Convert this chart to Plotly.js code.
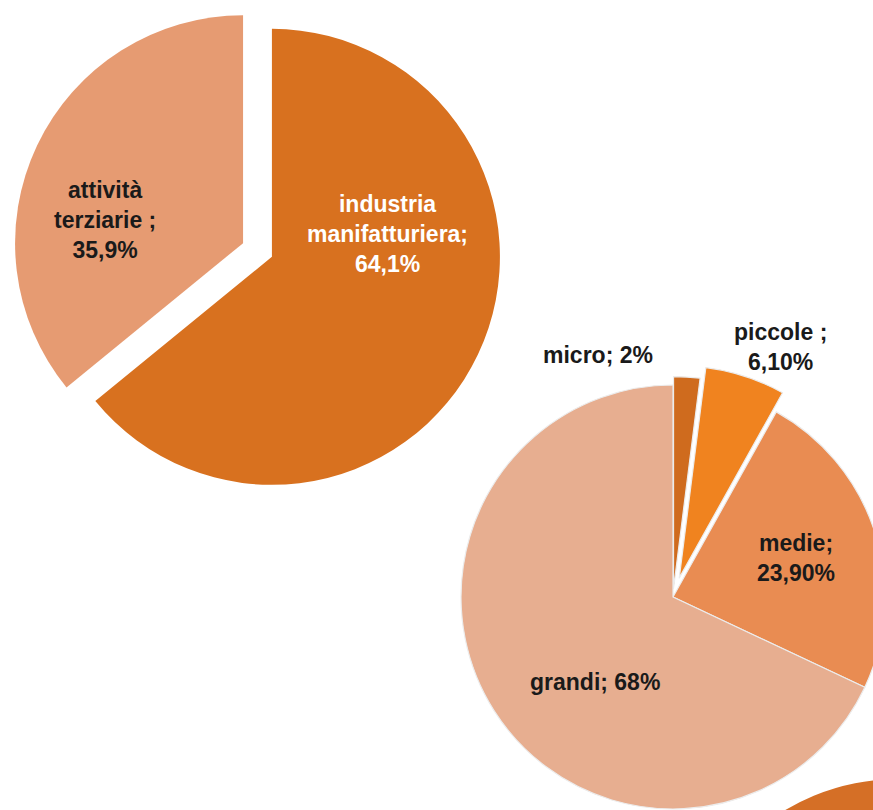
<!DOCTYPE html>
<html>
<head>
<meta charset="utf-8">
<script src="https://cdn.plot.ly/plotly-3.0.1.min.js"></script>
<style>
  html, body { margin: 0; padding: 0; background: #ffffff; overflow: hidden; width: 873px; height: 810px; }
  #chart { width: 1200px; height: 1250px; }
</style>
</head>
<body>
<div id="chart"></div>
<script>
// ---- data ----
const sectorLabels = ['industria manifatturiera', 'attività terziarie'];
const sectorValues = [64.1, 35.9];
const sectorText = ['industria<br>manifatturiera;<br>64,1%', 'attività<br>terziarie ;<br>35,9%'];

const sizeLabels = ['micro', 'piccole', 'medie', 'grandi'];
const sizeValues = [2, 6.1, 23.9, 68];
const sizeText = ['micro; 2%', 'piccole ;<br>6,10%', 'medie;<br>23,90%', 'grandi; 68%'];

const partialLabels = ['altro'];
const partialValues = [100];

// ---- layout helpers (pixel geometry of the canvas) ----
const W = 1200, H = 1250;
function domainFor(cx, cy, r, maxPull) {
  const half = r * (1 + maxPull);
  return {
    x: [(cx - half) / W, (cx + half) / W],
    y: [1 - (cy + half) / H, 1 - (cy - half) / H]
  };
}
function px(x) { return x / W; }
function py(y) { return 1 - y / H; }

const pie1 = {
  type: 'pie',
  labels: sectorLabels,
  values: sectorValues,
  sort: false,
  direction: 'clockwise',
  rotation: 0,
  pull: [0.07, 0.07],
  marker: { colors: ['#d8711f', '#e69b72'], line: { width: 0 } },
  textinfo: 'none',
  hoverinfo: 'none',
  showlegend: false,
  domain: domainFor(257.5, 250, 228, 0.07)
};

const pie2 = {
  type: 'pie',
  labels: sizeLabels,
  values: sizeValues,
  sort: false,
  direction: 'clockwise',
  rotation: 0,
  pull: [0.04, 0.095, 0, 0],
  marker: { colors: ['#cf6b1e', '#f0831f', '#e98c52', '#e7ae90'], line: { width: 1.2, color: '#ececec' } },
  textinfo: 'none',
  hoverinfo: 'none',
  showlegend: false,
  domain: domainFor(673, 597, 212, 0.095)
};

const pie3 = {
  type: 'pie',
  labels: partialLabels,
  values: partialValues,
  sort: false,
  marker: { colors: ['#d56f26'], line: { width: 0 } },
  textinfo: 'none',
  hoverinfo: 'none',
  showlegend: false,
  domain: domainFor(898, 999, 220, 0)
};

const fontBase = { family: 'Liberation Sans, Arial, sans-serif', size: 23 };
function ann(text, x, y, color) {
  return {
    text: '<b>' + text + '</b>',
    xref: 'paper', yref: 'paper',
    x: px(x), y: py(y),
    xanchor: 'center', yanchor: 'middle',
    showarrow: false,
    align: 'center',
    font: Object.assign({}, fontBase, { color: color })
  };
}

const annotations = [
  ann(sectorText[0], 388, 234, '#ffffff'),
  ann(sectorText[1], 105, 220, '#1a1a1a'),
  ann(sizeText[0], 598, 355, '#1a1a1a'),
  ann(sizeText[1], 780, 347, '#1a1a1a'),
  ann(sizeText[2], 796, 558, '#1a1a1a'),
  ann(sizeText[3], 595, 682, '#1a1a1a')
];

const layout = {
  width: W,
  height: H,
  margin: { l: 0, r: 0, t: 0, b: 0 },
  paper_bgcolor: '#ffffff',
  showlegend: false,
  annotations: annotations
};

Plotly.newPlot('chart', [pie3, pie1, pie2], layout, { displayModeBar: false, staticPlot: true });
</script>
</body>
</html>
